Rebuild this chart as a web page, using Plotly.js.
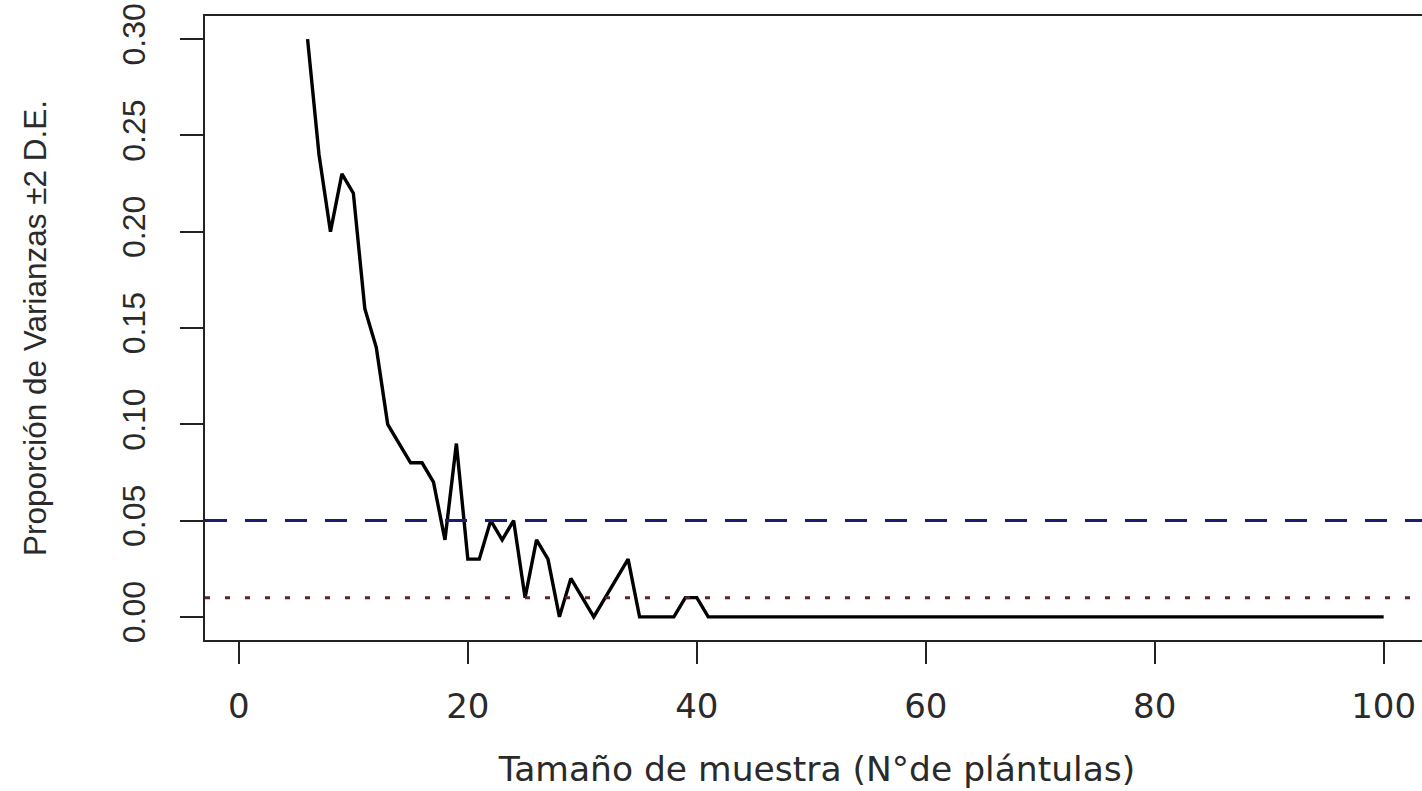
<!DOCTYPE html>
<html>
<head>
<meta charset="utf-8">
<script src="https://cdn.plot.ly/plotly-3.0.1.min.js"></script>
<style>
html,body{margin:0;padding:0;overflow:hidden;background:#fff;}
#chart{width:1430px;height:791px;}
</style>
</head>
<body>
<div id="chart"></div>
<script>
// Sample size (number of seedlings)
const sampleSize = [6,7,8,9,10,11,12,13,14,15,16,17,18,19,20,21,22,23,24,25,26,27,28,29,30,31,32,33,34,35,36,37,38,39,40,41,
  42,43,44,45,46,47,48,49,50,51,52,53,54,55,56,57,58,59,60,61,62,63,64,65,66,67,68,69,70,
  71,72,73,74,75,76,77,78,79,80,81,82,83,84,85,86,87,88,89,90,91,92,93,94,95,96,97,98,99,100];
// Proportion of variances outside +-2 SD
const proportion = [0.30,0.24,0.20,0.23,0.22,0.16,0.14,0.10,0.09,0.08,0.08,0.07,0.04,0.09,0.03,0.03,0.05,0.04,0.05,0.01,0.04,0.03,0.00,0.02,0.01,0.00,0.01,0.02,0.03,0.00,0.00,0.00,0.00,0.01,0.01,0.00,
  0,0,0,0,0,0,0,0,0,0,0,0,0,0,0,0,0,0,0,0,0,0,0,0,0,0,0,0,0,
  0,0,0,0,0,0,0,0,0,0,0,0,0,0,0,0,0,0,0,0,0,0,0,0,0,0,0,0,0,0];
// Reference thresholds
const thresholdDashed = 0.05;
const thresholdDotted = 0.01;
const xTicks = [0,20,40,60,80,100];
const yTicks = [0.00,0.05,0.10,0.15,0.20,0.25,0.30];

const trace = {
  x: sampleSize, y: proportion, type: 'scatter', mode: 'lines',
  line: {color: '#000000', width: 3.4}, hoverinfo: 'x+y'
};

const layout = {
  width: 1430, height: 791,
  margin: {l: 205, r: 1, t: 16, b: 151},
  paper_bgcolor: '#ffffff', plot_bgcolor: '#ffffff',
  showlegend: false,
  xaxis: {
    range: [-2.96, 103.96], tickvals: xTicks, ticktext: xTicks.map(String),
    showgrid: false, zeroline: false,
    showline: true, mirror: true, linecolor: '#222', linewidth: 2,
    ticks: 'outside', ticklen: 22, tickwidth: 2, tickcolor: '#222',
    ticklabelstandoff: 13,
    tickfont: {family: 'DejaVu Sans', size: 34, color: '#2a2a2a'},
    title: {text: 'Tamaño de muestra (N°de plántulas)', standoff: 32,
            font: {family: 'DejaVu Sans', size: 34.5, color: '#2a2a2a'}}
  },
  yaxis: {
    range: [-0.012, 0.312], tickvals: yTicks, ticktext: yTicks.map(v => v.toFixed(2)),
    tickangle: -90,
    showgrid: false, zeroline: false,
    showline: true, mirror: true, linecolor: '#222', linewidth: 2,
    ticks: 'outside', ticklen: 23, tickwidth: 2, tickcolor: '#222',
    ticklabelstandoff: 22,
    tickfont: {family: 'Liberation Sans, Arial', size: 32, color: '#2a2a2a'},
    title: {text: 'Proporción de Varianzas ±2 D.E.', standoff: 60,
            font: {family: 'Liberation Sans, Arial', size: 31.5, color: '#2a2a2a'}}
  },
  shapes: [
    {type: 'line', xref: 'paper', x0: 0, x1: 1, yref: 'y', y0: thresholdDashed, y1: thresholdDashed,
     line: {color: '#1c1c78', width: 3, dash: '22px,18px'}},
    {type: 'line', xref: 'paper', x0: 0, x1: 1, yref: 'y', y0: thresholdDotted, y1: thresholdDotted,
     line: {color: '#5a2626', width: 3, dash: '5px,15px'}}
  ]
};

Plotly.newPlot('chart', [trace], layout, {displayModeBar: false, staticPlot: true});
</script>
</body>
</html>
